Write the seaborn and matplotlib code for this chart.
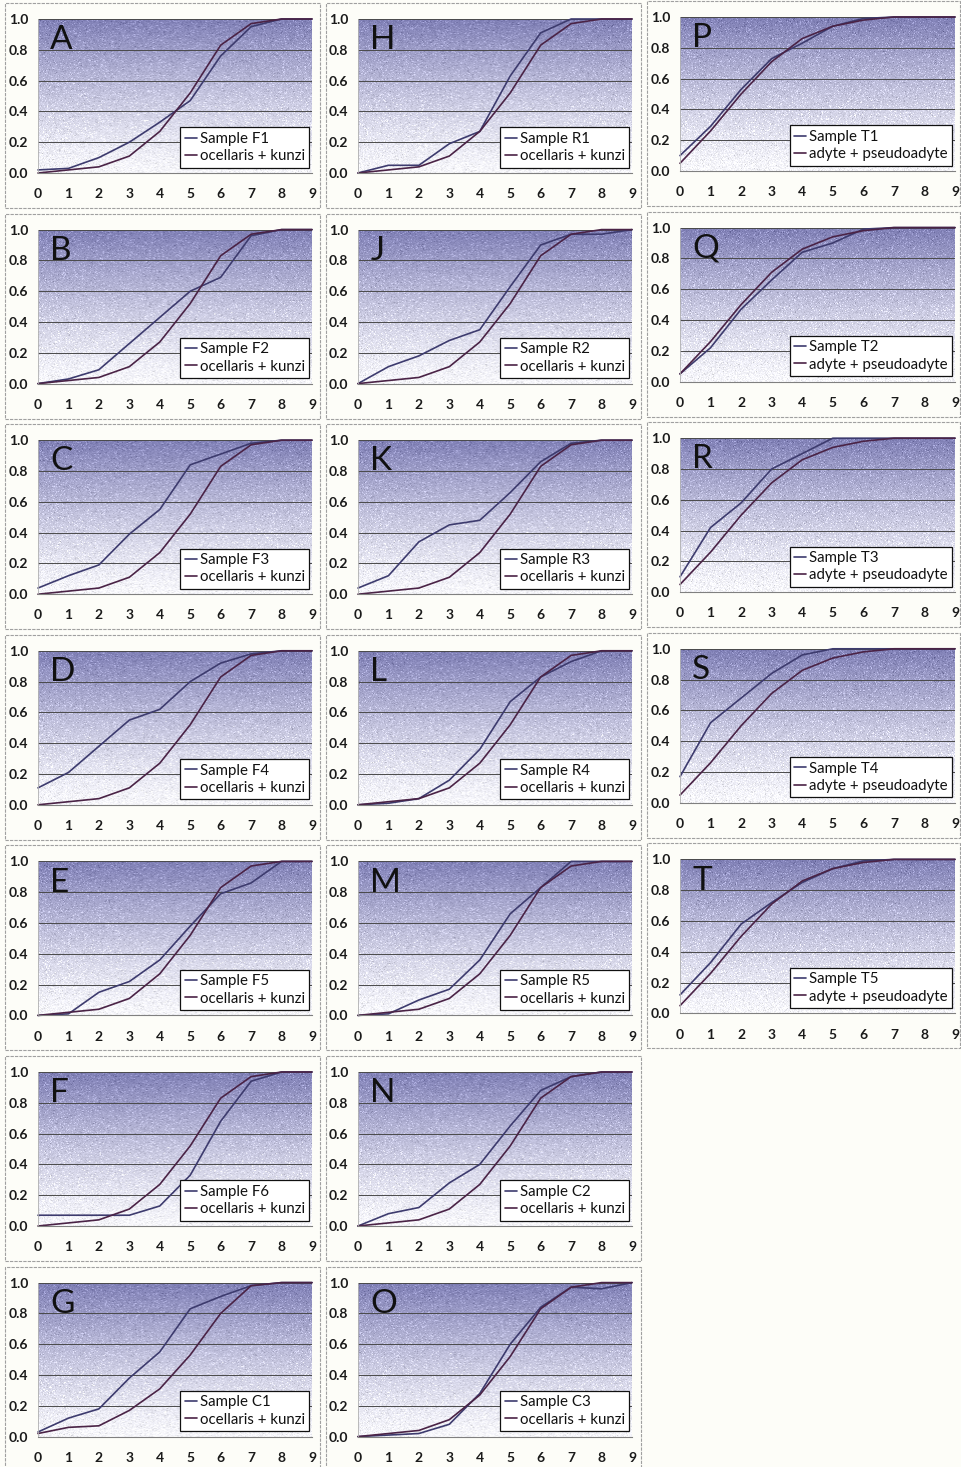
import matplotlib
matplotlib.use("Agg")
import matplotlib.pyplot as plt
from matplotlib.patches import Rectangle
import numpy as np
import seaborn as sns

# cumulative proportions, x = 0..9
x_vals = list(range(10))

ref_ok = [0.0, 0.02, 0.04, 0.11, 0.27, 0.52, 0.83, 0.97, 1.0, 1.0]
ref_ok_c1 = [0.02, 0.06, 0.07, 0.17, 0.31, 0.53, 0.80, 0.98, 1.0, 1.0]
ref_ap = [0.05, 0.26, 0.50, 0.71, 0.86, 0.94, 0.98, 1.0, 1.0, 1.0]

F1 = [0.02, 0.03, 0.10, 0.20, 0.33, 0.47, 0.76, 0.95, 1.0, 1.0]
F2 = [0.0, 0.03, 0.09, 0.26, 0.43, 0.60, 0.69, 0.96, 1.0, 1.0]
F3 = [0.04, 0.12, 0.19, 0.39, 0.55, 0.84, 0.91, 0.98, 1.0, 1.0]
F4 = [0.11, 0.21, 0.38, 0.55, 0.62, 0.80, 0.92, 0.98, 1.0, 1.0]
F5 = [0.0, 0.01, 0.15, 0.22, 0.36, 0.58, 0.79, 0.86, 1.0, 1.0]
F6 = [0.07, 0.07, 0.07, 0.07, 0.13, 0.33, 0.68, 0.94, 1.0, 1.0]
C1 = [0.03, 0.12, 0.18, 0.38, 0.55, 0.83, 0.91, 0.98, 1.0, 1.0]
R1 = [0.0, 0.05, 0.05, 0.19, 0.27, 0.63, 0.91, 1.0, 1.0, 1.0]
R2 = [0.0, 0.11, 0.18, 0.28, 0.35, 0.63, 0.90, 0.97, 0.97, 1.0]
R3 = [0.04, 0.12, 0.34, 0.45, 0.48, 0.66, 0.86, 0.98, 1.0, 1.0]
R4 = [0.0, 0.01, 0.04, 0.16, 0.36, 0.67, 0.83, 0.93, 1.0, 1.0]
R5 = [0.0, 0.01, 0.10, 0.17, 0.36, 0.66, 0.83, 1.0, 1.0, 1.0]
C2 = [0.0, 0.08, 0.12, 0.28, 0.40, 0.65, 0.88, 0.97, 1.0, 1.0]
C3 = [0.0, 0.01, 0.02, 0.08, 0.28, 0.60, 0.84, 0.97, 0.96, 1.0]
T1 = [0.10, 0.29, 0.53, 0.73, 0.83, 0.94, 0.99, 1.0, 1.0, 1.0]
T2 = [0.05, 0.22, 0.47, 0.66, 0.84, 0.90, 0.99, 1.0, 1.0, 1.0]
T3 = [0.10, 0.42, 0.58, 0.80, 0.90, 1.0, 1.0, 1.0, 1.0, 1.0]
T4 = [0.17, 0.52, 0.68, 0.84, 0.96, 1.0, 1.0, 1.0, 1.0, 1.0]
T5 = [0.12, 0.33, 0.58, 0.72, 0.85, 0.94, 0.99, 1.0, 1.0, 1.0]

panel_letters = ["A", "B", "C", "D", "E", "F", "G",
                 "H", "J", "K", "L", "M", "N", "O",
                 "P", "Q", "R", "S", "T"]
sample_names = ["Sample F1", "Sample F2", "Sample F3", "Sample F4", "Sample F5", "Sample F6", "Sample C1",
                "Sample R1", "Sample R2", "Sample R3", "Sample R4", "Sample R5", "Sample C2", "Sample C3",
                "Sample T1", "Sample T2", "Sample T3", "Sample T4", "Sample T5"]
sample_vals = [F1, F2, F3, F4, F5, F6, C1,
               R1, R2, R3, R4, R5, C2, C3,
               T1, T2, T3, T4, T5]
ref_names = ["ocellaris + kunzi"] * 14 + ["adyte + pseudoadyte"] * 5
ref_vals = [ref_ok] * 6 + [ref_ok_c1] + [ref_ok] * 7 + [ref_ap] * 5

sns.set_theme(style="white")
plt.rcParams['font.family'] = ['Lato', 'DejaVu Sans']

W, H = 961, 1467
fig = plt.figure(figsize=(W / 100, H / 100), dpi=100, facecolor="#fdfdf8")

frame_left = [5, 326, 647]
frame_right = [320, 641, 960]
plot_left = [38, 358, 680]
plot_w = [274, 274, 275]
col_dy = [0, 0, -2]
row_step = 210.6
plot_h = 154

# gradient background (purple top fading to white)
ny, nx = 154, 275
t = np.linspace(0, 1, ny)[:, None] ** 1.25
top_c = np.array([128, 128, 182]) / 255
bot_c = np.array([247, 247, 252]) / 255
base = bot_c[None, None, :] * (1 - t[..., None]) + top_c[None, None, :] * t[..., None]
base = np.repeat(base, nx, axis=1)
rng = np.random.default_rng(3)

sample_color = "#3d3b6e"
ref_color = "#4a2346"

for i, letter in enumerate(panel_letters):
    col = 0 if i < 7 else (1 if i < 14 else 2)
    row = i if i < 7 else (i - 7 if i < 14 else i - 14)

    # panel frame
    ftop = 3 + row_step * row + col_dy[col]
    fig.add_artist(Rectangle((frame_left[col] / W, 1 - (ftop + 205) / H),
                             (frame_right[col] - frame_left[col]) / W, 205 / H,
                             transform=fig.transFigure, fill=False,
                             edgecolor="#a0a0a0", linewidth=0.8, linestyle=(0, (3, 1))))

    ptop = 19 + row_step * row + col_dy[col]
    ax = fig.add_axes([plot_left[col] / W, 1 - (ptop + plot_h) / H, plot_w[col] / W, plot_h / H])

    speck = rng.random((ny, nx))
    img = base.copy()
    img += rng.normal(0, 0.03, (ny, nx, 1))
    img[speck > 0.92] += 0.13
    img[speck < 0.04] -= 0.10
    ax.imshow(np.clip(img, 0, 1), extent=(0, 9, 0, 1), aspect="auto",
              origin="lower", zorder=-1, interpolation="bilinear")

    sns.lineplot(x=x_vals, y=sample_vals[i], ax=ax, color=sample_color,
                 linewidth=1.2, label=sample_names[i])
    sns.lineplot(x=x_vals, y=ref_vals[i], ax=ax, color=ref_color,
                 linewidth=1.2, label=ref_names[i])
    for ln in ax.lines:
        ln.set_clip_on(False)

    ax.set_xlim(0, 9)
    ax.set_ylim(0, 1)
    ax.set_xticks(x_vals)
    ax.set_yticks([0, 0.2, 0.4, 0.6, 0.8, 1.0])
    ax.set_yticklabels(["0.0", "0.2", "0.4", "0.6", "0.8", "1.0"])
    ax.set_axisbelow(True)
    ax.yaxis.grid(True, color="#4a4a4a", linewidth=0.7)
    ax.xaxis.grid(False)
    for s in ["top", "right"]:
        ax.spines[s].set_visible(False)
    ax.spines["left"].set_color("#b0b0b0")
    ax.spines["left"].set_linewidth(0.6)
    ax.spines["bottom"].set_color("#808080")
    ax.spines["bottom"].set_linewidth(0.8)
    ax.tick_params(axis="x", length=3, direction="in", color="#808080",
                   pad=11, labelsize=10, width=0.6)
    ax.tick_params(axis="y", length=0, pad=7, labelsize=10)
    for lab in ax.get_xticklabels() + ax.get_yticklabels():
        lab.set_fontweight("bold")
        lab.set_color("#1a1a1a")
    ax.set_xlabel("")
    ax.set_ylabel("")

    ax.text(0.045, 0.96, letter, transform=ax.transAxes, ha="left", va="top",
            fontsize=24, color="#111111")

    leg = ax.legend(loc="lower right", bbox_to_anchor=(0.99, 0.035), frameon=True,
                    fancybox=False, framealpha=1, edgecolor="#111111",
                    fontsize=10.8, handlelength=0.8, handletextpad=0.2,
                    labelspacing=0.22, borderpad=0.3, borderaxespad=0)
    leg.get_frame().set_linewidth(0.9)
    for txt in leg.get_texts():
        txt.set_color("#111111")

fig.savefig("out.png", dpi=100, facecolor=fig.get_facecolor())
